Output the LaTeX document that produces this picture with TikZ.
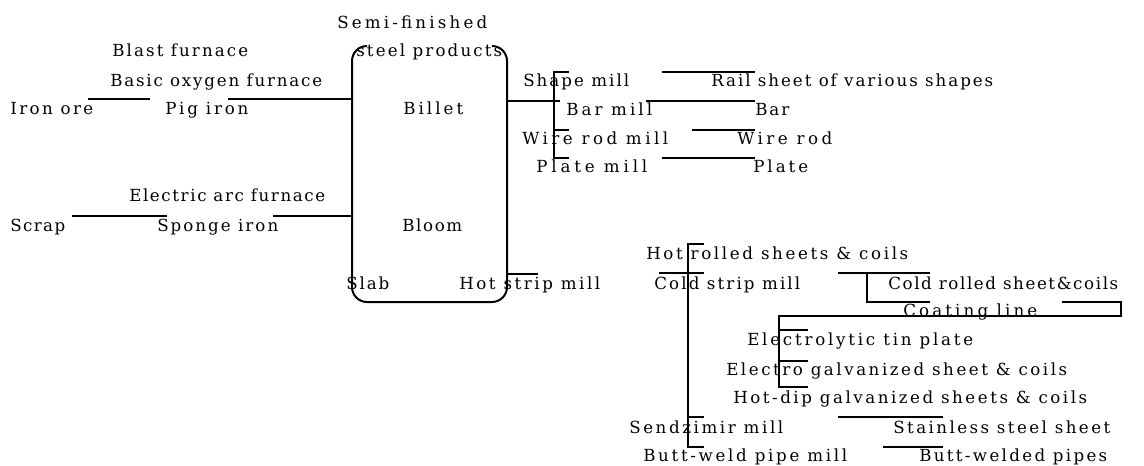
\documentclass[tikz,border=0pt]{standalone}
\usepackage{fontspec}
\setmainfont{DejaVu Serif}
\newbox\fwA
\newbox\fwB
% set #2 letter-spaced so that it is about #1 px wide
\newcommand\fitw[2]{%
  \setbox\fwA\hbox{#2}%
  \setbox\fwB\hbox{\addfontfeature{LetterSpace=50}#2}%
  \pgfmathsetmacro\fwls{50*(#1*0.75-\the\wd\fwA)/(\the\wd\fwB-\the\wd\fwA)}%
  \addfontfeature{LetterSpace=\fwls}#2}
\begin{document}
\begin{tikzpicture}[x=0.75pt,y=-0.75pt,
  lbl/.style={anchor=base west,inner sep=0pt,font=\fontsize{12.5pt}{14pt}\selectfont},
  ln/.style={line width=1.5pt}]
\useasboundingbox (0,0) rectangle (1144,465);
% ---------- labels ----------
\node[lbl] (semi)   at (337,28.3) {\fitw{150}{Semi-finished}};
\node[lbl] (steel)  at (356,56)   {\fitw{146}{steel products}};
\node[lbl] (blast)  at (112,56.7) {\fitw{136}{Blast furnace}};
\node[lbl] (bof)    at (110,86.7) {\fitw{212}{Basic oxygen furnace}};
\node[lbl] (ore)    at (10,114)   {\fitw{83}{Iron ore}};
\node[lbl] (pig)    at (165,114)  {\fitw{83}{Pig iron}};
\node[lbl] (billet) at (403,114)  {\fitw{60}{Billet}};
\node[lbl] (eaf)    at (129,201.7){\fitw{196}{Electric arc furnace}};
\node[lbl] (scrap)  at (10,231.7) {\fitw{55}{Scrap}};
\node[lbl] (sponge) at (157,231.7){\fitw{121}{Sponge iron}};
\node[lbl] (bloom)  at (402,231.7){\fitw{60}{Bloom}};
\node[lbl] (slab)   at (346,289)  {\fitw{43}{Slab}};
\node[lbl] (hsm)    at (459,289)  {\fitw{141}{Hot strip mill}};
\node[lbl] (shape)  at (523,86)   {\fitw{106}{Shape mill}};
\node[lbl] (rail)   at (711,86)   {\fitw{282}{Rail sheet of various shapes}};
\node[lbl] (barm)   at (566,115)  {\fitw{86}{Bar mill}};
\node[lbl] (bar)    at (755,115)  {\fitw{34}{Bar}};
\node[lbl] (wrm)    at (522,144.3){\fitw{146}{Wire rod mill}};
\node[lbl] (wr)     at (737,144.3){\fitw{95}{Wire rod}};
\node[lbl] (platem) at (536,172.7){\fitw{111}{Plate mill}};
\node[lbl] (plate)  at (753,172.7){\fitw{55}{Plate}};
\node[lbl] (hrs)    at (646,259)  {\fitw{262}{Hot rolled sheets \& coils}};
\node[lbl] (csm)    at (654,289)  {\fitw{146}{Cold strip mill}};
\node[lbl] (crs)    at (888,289)  {\fitw{230}{Cold rolled sheet\&coils}};
\node[lbl] (coat)   at (903,316)  {\fitw{134}{Coating line}};
\node[lbl] (etp)    at (747,345)  {\fitw{226}{Electrolytic tin plate}};
\node[lbl] (egs)    at (726,375)  {\fitw{341}{Electro galvanized sheet \& coils}};
\node[lbl] (hdg)    at (733,403.3){\fitw{354}{Hot-dip galvanized sheets \& coils}};
\node[lbl] (szm)    at (629,433.3){\fitw{154}{Sendzimir mill}};
\node[lbl] (sss)    at (893,433.3){\fitw{217}{Stainless steel sheet}};
\node[lbl] (bwm)    at (643,461.7){\fitw{204}{Butt-weld pipe mill}};
\node[lbl] (bwp)    at (919,461.7){\fitw{188}{Butt-welded pipes}};
% ---------- semi-finished products box ----------
\draw[ln,rounded corners=11.25pt] (367,46) -- (352,46) -- (352,302) -- (507,302) -- (507,46) -- (492,46);
% ---------- left connectors ----------
\draw[ln] (88,99) -- (150,99);
\draw[ln] (228,99) -- (352,99);
\draw[ln] (72,216) -- (167,216);
\draw[ln] (273,216) -- (352,216);
% ---------- upper right connectors ----------
\draw[ln] (507,100.7) -- (560,100.7);
\draw[ln] (569,72) -- (554,72) -- (554,158) -- (569,158);
\draw[ln] (554,130) -- (569,130);
\draw[ln] (662,72) -- (755,72);
\draw[ln] (646,100.7) -- (755,100.7);
\draw[ln] (692,130) -- (755,130);
\draw[ln] (662,158) -- (755,158);
\draw[ln] (507,274) -- (538,274);
% ---------- lower right connectors ----------
\draw[ln] (704,244) -- (688,244) -- (688,447) -- (704,447);
\draw[ln] (659,273) -- (704,273);
\draw[ln] (688,417) -- (704,417);
\draw[ln] (838,273) -- (930,273);
\draw[ln] (867,273) -- (867,302) -- (930,302);
\draw[ln] (1062,302) -- (1121,302) -- (1121,316) -- (779,316) -- (779,387) -- (808,387);
\draw[ln] (779,330) -- (808,330);
\draw[ln] (779,361) -- (808,361);
\draw[ln] (838,417) -- (943,417);
\draw[ln] (883,447) -- (943,447);
\end{tikzpicture}
\end{document}
